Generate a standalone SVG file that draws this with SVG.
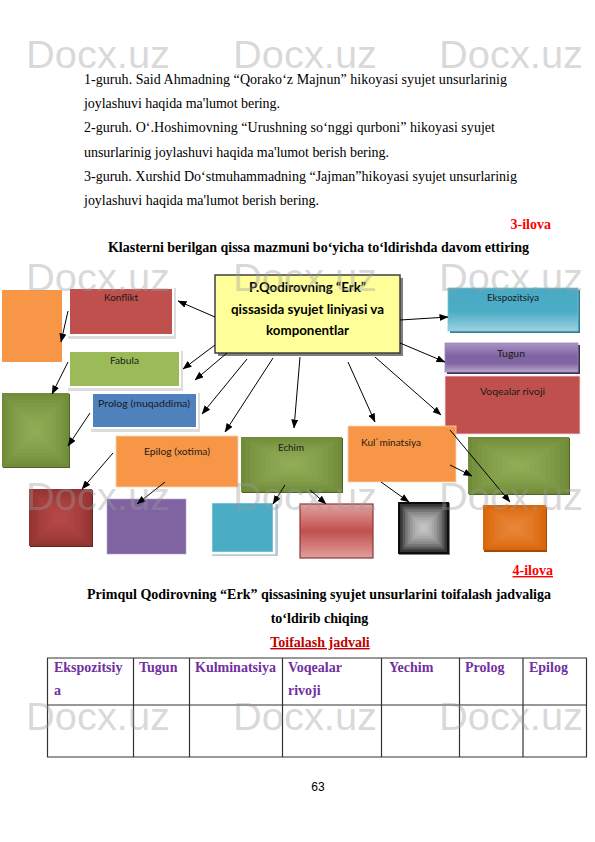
<svg xmlns="http://www.w3.org/2000/svg" width="595" height="842" viewBox="0 0 595 842">
<style>
.body{font-family:"Liberation Serif","Times New Roman",serif;font-size:14px;fill:#000}
.b{font-weight:bold}
.red{fill:#ff0000}
.lbl{font-family:Lato,"Open Sans","Liberation Sans",sans-serif;font-size:10px;fill:#1a1a1a}
.ctr{font-family:Lato,"Open Sans","Liberation Sans",sans-serif;font-size:13px;font-weight:bold;fill:#000;text-anchor:middle}
.hdr{font-family:"Liberation Serif","Times New Roman",serif;font-size:14px;font-weight:bold;fill:#7030A0}
.conn line{stroke:#000;stroke-width:1;marker-end:url(#ah)}
.tbl line{stroke:#333;stroke-width:1.2}
.wm{font-family:"Liberation Sans",Arial,sans-serif;font-size:38px;fill:#9a9a9a;fill-opacity:0.38}
</style>
<defs>
<marker id="ah" markerUnits="userSpaceOnUse" markerWidth="9" markerHeight="7" refX="8.5" refY="3.5" orient="auto"><path d="M0,0 L9,3.5 L0,7 z" fill="#000"/></marker>
<symbol id="frame" viewBox="0 0 100 100" preserveAspectRatio="none">
<rect x="4" y="4" width="92" height="92" fill="currentColor"/>
<rect x="9" y="9" width="82" height="82" fill="currentColor"/>
<rect x="14" y="14" width="72" height="72" fill="currentColor"/>
<rect x="19" y="19" width="62" height="62" fill="currentColor"/>
<rect x="24" y="24" width="52" height="52" fill="currentColor"/>
<rect x="29" y="29" width="42" height="42" fill="currentColor"/>
<rect x="34" y="34" width="32" height="32" fill="currentColor"/>
<rect x="39" y="39" width="22" height="22" fill="currentColor"/>
<rect x="44" y="44" width="12" height="12" fill="currentColor"/>
</symbol>
<linearGradient id="gEks" x1="0" y1="0" x2="0" y2="1"><stop offset="0" stop-color="#4aaac4"/><stop offset="0.55" stop-color="#4bacc6"/><stop offset="1" stop-color="#9dd3e2"/></linearGradient>
<linearGradient id="gTug" x1="0" y1="0" x2="0" y2="1"><stop offset="0" stop-color="#a994c6"/><stop offset="0.45" stop-color="#7f63a1"/><stop offset="0.7" stop-color="#8266a4"/><stop offset="1" stop-color="#b6a6ca"/></linearGradient>
<linearGradient id="gRed" x1="0" y1="0" x2="0" y2="1"><stop offset="0" stop-color="#e2a2a0"/><stop offset="0.5" stop-color="#c0504d"/><stop offset="1" stop-color="#e0a09e"/></linearGradient>
</defs>
<rect width="595" height="842" fill="#fff"/>

<g id="text-top" class="body">
<text x="84" y="84" textLength="423" lengthAdjust="spacing">1-guruh. Said Ahmadning “Qorako‘z Majnun”  hikoyasi syujet unsurlarinig</text>
<text x="84" y="108" textLength="196" lengthAdjust="spacing">joylashuvi haqida ma'lumot bering.</text>
<text x="84" y="132" textLength="411" lengthAdjust="spacing">2-guruh. O‘.Hoshimovning “Urushning so‘nggi qurboni”  hikoyasi syujet</text>
<text x="84" y="157" textLength="305" lengthAdjust="spacing">unsurlarinig joylashuvi haqida ma'lumot berish bering.</text>
<text x="84" y="181" textLength="433" lengthAdjust="spacing">3-guruh. Xurshid Do‘stmuhammadning “Jajman”hikoyasi syujet unsurlarinig</text>
<text x="84" y="205" textLength="235" lengthAdjust="spacing">joylashuvi haqida ma'lumot berish bering.</text>
<text x="551" y="229" class="b red" text-anchor="end">3-ilova</text>
<text x="108" y="252" class="b" textLength="421" lengthAdjust="spacing">Klasterni berilgan qissa mazmuni bo‘yicha to‘ldirishda davom ettiring</text>
</g>

<g id="n-orange-left"><rect x="2" y="290" width="60" height="72" fill="#F79646"/></g>
<g id="n-konflikt">
<rect x="68" y="288" width="108" height="51" fill="#dcdcdc"/>
<rect x="69" y="288" width="104" height="47" fill="#C0504D" stroke="#fff" stroke-width="2"/>
<text x="121" y="301" class="lbl" text-anchor="middle" textLength="34" lengthAdjust="spacingAndGlyphs">Konflikt</text>
</g>
<g id="n-center">
<rect x="218" y="278" width="185" height="78" fill="#7f7f7f"/>
<rect x="215" y="275" width="185" height="78" fill="#FFFF99" stroke="#404040" stroke-width="1.5"/>
<text x="307.5" y="292" class="ctr" textLength="117" lengthAdjust="spacingAndGlyphs">P.Qodirovning “Erk”</text>
<text x="307.5" y="314" class="ctr" textLength="153" lengthAdjust="spacingAndGlyphs">qissasida syujet liniyasi va</text>
<text x="307.5" y="335" class="ctr" textLength="83" lengthAdjust="spacingAndGlyphs">komponentlar</text>
</g>
<g id="n-ekspozitsiya">
<rect x="450" y="290" width="130" height="43" fill="#2f7e93"/>
<rect x="448" y="288" width="130" height="43" fill="url(#gEks)" stroke="#7fc3d6" stroke-width="0.8"/>
<text x="513" y="301" class="lbl" text-anchor="middle" textLength="52" lengthAdjust="spacingAndGlyphs">Ekspozitsiya</text>
</g>
<g id="n-tugun">
<rect x="447" y="345" width="133" height="29" fill="#3f3151"/>
<rect x="445" y="343" width="133" height="29" fill="url(#gTug)" stroke="#9d88bd" stroke-width="0.8"/>
<text x="511" y="357" class="lbl" text-anchor="middle" textLength="28" lengthAdjust="spacingAndGlyphs">Tugun</text>
</g>
<g id="n-voqealar">
<rect x="445" y="376" width="135" height="58" fill="#C0504D" stroke="#f2dcdb" stroke-width="0.8"/>
<text x="512.5" y="395" class="lbl" text-anchor="middle" textLength="65" lengthAdjust="spacingAndGlyphs">Voqealar rivoji</text>
</g>
<g id="n-fabula">
<rect x="68" y="351" width="115" height="40" fill="#dcdcdc"/>
<rect x="69" y="351" width="111" height="36" fill="#9BBB59" stroke="#fff" stroke-width="2"/>
<text x="124.5" y="364" class="lbl" text-anchor="middle" textLength="29" lengthAdjust="spacingAndGlyphs">Fabula</text>
</g>
<g id="n-green-left">
<rect x="3" y="394" width="67" height="74" fill="#4f6228"/>
<rect x="2" y="393" width="67" height="74" fill="#718c39"/>
<use href="#frame" x="2" y="393" width="67" height="74" color="#a9c96a" fill-opacity="0.1"/>
</g>
<g id="n-prolog">
<rect x="91" y="393" width="109" height="39" fill="#dcdcdc"/>
<rect x="92" y="393" width="105" height="35" fill="#4F81BD" stroke="#fff" stroke-width="2"/>
<text x="144" y="407" class="lbl" text-anchor="middle" textLength="92" lengthAdjust="spacingAndGlyphs">Prolog (muqaddima)</text>
</g>
<g id="n-epilog">
<rect x="116" y="436" width="122" height="51" fill="#F79646" stroke="#fbd4b4" stroke-width="0.8"/>
<text x="177" y="455" class="lbl" text-anchor="middle" textLength="66" lengthAdjust="spacingAndGlyphs">Epilog (xotima)</text>
</g>
<g id="n-echim">
<rect x="242" y="438" width="101" height="55" fill="#4f6228"/>
<rect x="241" y="437" width="101" height="55" fill="#718c39"/>
<use href="#frame" x="241" y="437" width="101" height="55" color="#a9c96a" fill-opacity="0.1"/>
<text x="291" y="451" class="lbl" text-anchor="middle" textLength="26" lengthAdjust="spacingAndGlyphs">Echim</text>
</g>
<g id="n-kulminatsiya">
<rect x="348" y="426" width="108" height="56" fill="#F79646" stroke="#fbd4b4" stroke-width="0.8"/>
<text x="361" y="446" class="lbl" textLength="60" lengthAdjust="spacingAndGlyphs">Kul`minatsiya</text>
</g>
<g id="n-green-right">
<rect x="469" y="438" width="101" height="57" fill="#4f6228"/>
<rect x="468" y="437" width="101" height="57" fill="#718c39"/>
<use href="#frame" x="468" y="437" width="101" height="57" color="#a9c96a" fill-opacity="0.1"/>
</g>
<g id="n-darkred">
<rect x="30" y="490" width="63" height="57" fill="#632523"/>
<rect x="29" y="489" width="63" height="57" fill="#923432"/>
<use href="#frame" x="29" y="489" width="63" height="57" color="#cf5a57" fill-opacity="0.1"/>
</g>
<g id="n-purple"><rect x="107" y="499" width="79" height="55" fill="#8064A2" stroke="#b2a1c7" stroke-width="0.6"/></g>
<g id="n-teal">
<rect x="212" y="504" width="66" height="52" fill="#b6cbd6"/>
<rect x="211" y="502" width="63" height="51" fill="#4BACC6" stroke="#fff" stroke-width="2.5"/>
</g>
<g id="n-redgrad"><rect x="300" y="504" width="73" height="54" fill="url(#gRed)" stroke="#8b3836" stroke-width="1.2"/></g>
<g id="n-black">
<rect x="399" y="503" width="51" height="52" fill="#7f7f7f"/>
<rect x="398" y="502" width="51" height="52" fill="#0d0d0d"/>
<use href="#frame" x="398" y="502" width="51" height="52" color="#e0e0e0" fill-opacity="0.2"/>
</g>
<g id="n-orange-br">
<rect x="484" y="507" width="63" height="45" fill="#a14906"/>
<rect x="483" y="505" width="63" height="45" fill="#d8660b"/>
<use href="#frame" x="483" y="505" width="63" height="45" color="#f5a05a" fill-opacity="0.1"/>
</g>

<g id="connectors" class="conn">
<line x1="215" y1="317" x2="178" y2="301"/>
<line x1="68" y1="311" x2="61" y2="342"/>
<line x1="215" y1="345" x2="183" y2="369"/>
<line x1="227" y1="353" x2="195" y2="380"/>
<line x1="68" y1="362" x2="52" y2="394"/>
<line x1="247" y1="359" x2="202" y2="414"/>
<line x1="273" y1="358" x2="225" y2="432"/>
<line x1="300" y1="357" x2="294" y2="428"/>
<line x1="348" y1="362" x2="375" y2="422"/>
<line x1="375" y1="357" x2="441" y2="415"/>
<line x1="400" y1="320" x2="448" y2="317"/>
<line x1="400" y1="343" x2="445" y2="362"/>
<line x1="450" y1="430" x2="510" y2="502"/>
<line x1="450" y1="465" x2="472" y2="476"/>
<line x1="381" y1="482" x2="409" y2="502"/>
<line x1="310" y1="490" x2="326" y2="504"/>
<line x1="285" y1="485" x2="273" y2="504"/>
<line x1="165" y1="482" x2="137" y2="504"/>
<line x1="113" y1="453" x2="82" y2="489"/>
<line x1="90" y1="413" x2="68" y2="446"/>
</g>

<g id="text-bottom" class="body">
<text x="553" y="575" class="b red" text-anchor="end" text-decoration="underline">4-ilova</text>
<text x="87" y="599" class="b" textLength="464" lengthAdjust="spacing">Primqul Qodirovning “Erk” qissasining syujet unsurlarini toifalash jadvaliga</text>
<text x="319.5" y="623" class="b" text-anchor="middle">to‘ldirib chiqing</text>
<text x="320" y="647" class="b" text-anchor="middle" fill="#C00000" style="fill:#C00000" text-decoration="underline">Toifalash jadvali</text>
</g>

<g id="table">
<g class="tbl">
<line x1="47" y1="658" x2="587" y2="658"/>
<line x1="47" y1="705" x2="587" y2="705"/>
<line x1="47" y1="757" x2="587" y2="757"/>
<line x1="47.5" y1="658" x2="47.5" y2="757"/>
<line x1="133.5" y1="658" x2="133.5" y2="757"/>
<line x1="189.5" y1="658" x2="189.5" y2="757"/>
<line x1="282.5" y1="658" x2="282.5" y2="757"/>
<line x1="381.5" y1="658" x2="381.5" y2="757"/>
<line x1="459.5" y1="658" x2="459.5" y2="757"/>
<line x1="523" y1="658" x2="523" y2="757"/>
<line x1="586.5" y1="658" x2="586.5" y2="757"/>
</g>
<text x="54" y="672" class="hdr">Ekspozitsiy</text>
<text x="54" y="695" class="hdr">a</text>
<text x="139" y="672" class="hdr">Tugun</text>
<text x="195" y="672" class="hdr">Kulminatsiya</text>
<text x="288" y="672" class="hdr">Voqealar</text>
<text x="288" y="695" class="hdr">rivoji</text>
<text x="389" y="672" class="hdr">Yechim</text>
<text x="465" y="672" class="hdr">Prolog</text>
<text x="529" y="672" class="hdr">Epilog</text>
</g>

<text x="318" y="791" text-anchor="middle" font-family="Liberation Sans, Arial, sans-serif" font-size="12" fill="#000">63</text>

<g id="watermark" class="wm">
<text x="26" y="68" textLength="144" lengthAdjust="spacingAndGlyphs">Docx.uz</text>
<text x="233" y="68" textLength="144" lengthAdjust="spacingAndGlyphs">Docx.uz</text>
<text x="439" y="68" textLength="144" lengthAdjust="spacingAndGlyphs">Docx.uz</text>
<text x="26" y="291" textLength="144" lengthAdjust="spacingAndGlyphs">Docx.uz</text>
<text x="233" y="291" textLength="144" lengthAdjust="spacingAndGlyphs">Docx.uz</text>
<text x="439" y="291" textLength="144" lengthAdjust="spacingAndGlyphs">Docx.uz</text>
<text x="26" y="510" textLength="144" lengthAdjust="spacingAndGlyphs">Docx.uz</text>
<text x="233" y="510" textLength="144" lengthAdjust="spacingAndGlyphs">Docx.uz</text>
<text x="439" y="510" textLength="144" lengthAdjust="spacingAndGlyphs">Docx.uz</text>
<text x="26" y="730" textLength="144" lengthAdjust="spacingAndGlyphs">Docx.uz</text>
<text x="233" y="730" textLength="144" lengthAdjust="spacingAndGlyphs">Docx.uz</text>
<text x="439" y="730" textLength="144" lengthAdjust="spacingAndGlyphs">Docx.uz</text>
</g>
</svg>
